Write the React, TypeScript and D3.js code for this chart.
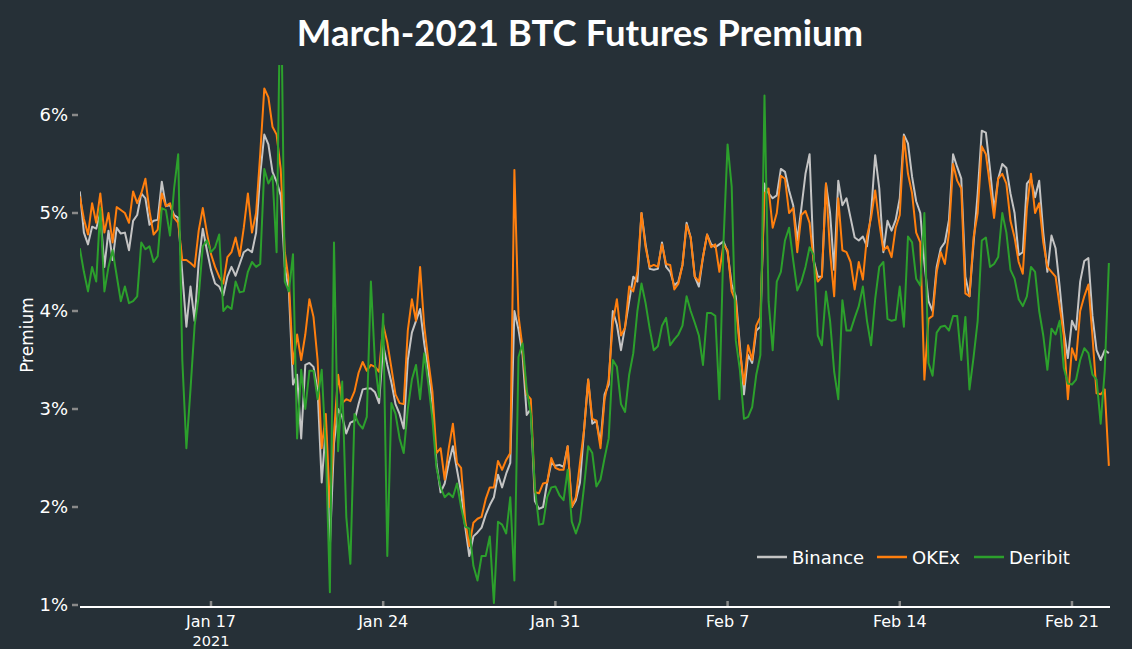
import React from 'react';
import * as d3 from 'd3';

// 4-hourly observations starting 2021-01-11 16:00 UTC
const START_UTC = Date.UTC(2021, 0, 11, 16);
const STEP_HOURS = 4;

const binance = [
  5.22, 4.8, 4.68, 4.86, 4.84, 5.0, 4.45, 4.82, 4.52, 4.85,
  4.79, 4.8, 4.62, 4.92, 4.98, 5.2, 5.15, 4.88, 4.92, 4.93,
  5.32, 5.07, 5.08, 4.98, 4.95, 4.38, 3.84, 4.25, 3.9, 4.5,
  4.84, 4.62, 4.42, 4.28, 4.25, 4.16, 4.35, 4.45, 4.36, 4.48,
  4.6, 4.63, 4.6, 4.8, 5.39, 5.8, 5.7, 5.42, 5.32, 5.18,
  4.45, 4.2, 3.25, 3.35, 2.7, 3.45, 3.47, 3.43, 3.2, 2.25,
  2.8, 1.6, 2.65, 3.0, 2.92, 2.75, 2.86, 2.88, 3.05, 3.2,
  3.21, 3.21, 3.17, 3.06, 3.65, 3.45, 3.27, 3.05, 2.95, 2.8,
  3.5, 3.78, 3.9, 4.02, 3.67, 3.4, 3.05, 2.45, 2.15, 2.24,
  2.45, 2.62, 2.38, 2.15, 1.8, 1.5, 1.7, 1.74, 1.79, 1.92,
  2.02, 2.1, 2.33, 2.2, 2.34, 2.45, 4.0, 3.81, 3.55, 2.94,
  3.0, 2.06, 1.98, 2.0, 2.25, 2.45, 2.42, 2.43, 2.41, 2.62,
  2.0, 2.07, 2.25, 2.79, 3.3, 2.85, 2.88, 2.65, 3.15, 3.25,
  4.0, 3.86, 3.6, 3.84, 4.1, 4.35, 4.3, 5.0, 4.68, 4.43,
  4.42, 4.43, 4.7, 4.45, 4.4, 4.26, 4.3, 4.47, 4.9, 4.75,
  4.35, 4.25, 4.55, 4.78, 4.68, 4.65, 4.68, 4.71, 4.6, 4.27,
  4.15, 3.65, 3.15, 3.55, 3.47, 3.8, 3.84, 5.3, 5.2, 5.15,
  5.18, 5.45, 5.42, 5.23, 5.08, 4.72, 5.05, 5.4, 5.6, 4.52,
  4.35, 4.35, 5.3, 5.0, 4.42, 5.33, 5.08, 5.15, 4.95, 4.75,
  4.72, 4.76, 4.66, 5.0, 5.59, 5.25, 4.6, 4.92, 4.82, 4.93,
  5.15, 5.8, 5.71, 5.37, 5.12, 5.0, 4.49, 4.1, 4.0, 4.45,
  4.64, 4.7, 4.93, 5.6, 5.47, 5.35, 4.35, 4.15, 4.69, 5.2,
  5.84, 5.82, 5.45, 5.03, 5.35, 5.5, 5.46, 5.2, 5.0, 4.57,
  4.6, 5.3, 5.35, 5.16, 5.33, 4.8, 4.4, 4.77, 4.64, 4.25,
  3.8, 3.52, 3.9, 3.81, 4.3, 4.51, 4.54, 3.95, 3.6, 3.5,
  3.6, 3.57,
];

const okex = [
  5.17, 4.94, 4.78, 5.1, 4.9, 5.2, 4.8, 5.0, 4.7, 5.06,
  5.03, 5.0, 4.9, 5.22, 5.1, 5.2, 5.35, 5.02, 4.78, 4.83,
  5.2, 5.07, 5.1, 4.95, 4.9, 4.52, 4.52, 4.49, 4.45, 4.82,
  5.05, 4.8, 4.58, 4.45, 4.35, 4.28, 4.55, 4.6, 4.75, 4.56,
  4.85, 5.2, 4.8, 5.0, 5.6, 6.27, 6.18, 5.88, 5.8, 5.45,
  4.6, 4.3, 3.46, 3.76, 3.5, 3.76, 4.12, 3.94, 3.5, 2.6,
  2.95, 2.0, 2.75, 3.35, 3.06, 3.1, 3.08, 3.18, 3.37, 3.48,
  3.39, 3.45, 3.43, 3.38, 3.86, 3.68, 3.42, 3.15, 3.06, 3.05,
  3.8, 4.12, 3.9, 4.45, 3.85, 3.5, 3.18, 2.55, 2.6, 2.28,
  2.6, 2.85, 2.45, 2.4, 1.86, 1.6, 1.84, 1.88, 1.9, 2.08,
  2.2, 2.2, 2.47, 2.38, 2.48, 2.55, 5.44, 3.95, 3.62, 3.15,
  3.1, 2.15, 2.14, 2.24, 2.25, 2.5, 2.4, 2.38, 2.38, 2.62,
  2.0, 2.1, 2.45, 2.79, 3.3, 2.9, 2.88, 2.6, 3.1, 3.3,
  3.88, 4.12, 3.75, 3.83, 4.25, 4.2, 4.4, 5.0, 4.65, 4.45,
  4.47, 4.45, 4.68, 4.48, 4.47, 4.22, 4.28, 4.47, 4.88, 4.75,
  4.35, 4.3, 4.55, 4.78, 4.65, 4.68, 4.4, 4.68, 4.62, 4.2,
  4.1, 3.6, 3.25, 3.65, 3.5, 3.85, 3.94, 5.2, 5.25, 4.85,
  5.0, 5.38, 5.35, 5.0, 5.05, 4.6, 4.98, 5.02, 4.9, 4.5,
  4.3, 4.35, 5.3, 4.6, 4.15, 5.15, 4.62, 4.6, 4.5, 4.22,
  4.5, 4.32, 4.76, 4.95, 5.23, 4.9, 4.62, 4.66, 4.55, 4.85,
  4.98, 5.78, 5.4, 5.2, 4.8, 4.7, 3.3, 3.92, 3.95, 4.4,
  4.6, 4.48, 4.8, 5.5, 5.33, 5.25, 4.18, 4.15, 4.75, 5.0,
  5.68, 5.6, 5.28, 4.95, 5.35, 5.4, 5.3, 4.92, 4.75, 4.5,
  4.38, 5.05, 5.4, 5.0, 5.1, 4.7, 4.45, 4.4, 4.35, 4.05,
  3.75, 3.1, 3.62, 3.5, 4.0, 4.15, 4.27, 3.74, 3.16, 3.15,
  3.2, 2.42,
];

const deribit = [
  4.64, 4.4, 4.2, 4.45, 4.3, 5.05, 4.2, 4.45, 4.62, 4.36,
  4.1, 4.25, 4.08, 4.1, 4.15, 4.7, 4.63, 4.66, 4.5, 4.56,
  5.05, 5.03, 4.77, 5.25, 5.6, 3.5, 2.6, 3.2, 3.85, 4.15,
  4.66, 4.72, 4.6, 4.65, 4.78, 4.0, 4.05, 4.02, 4.3, 4.19,
  4.2, 4.4, 4.5, 4.45, 4.48, 5.45, 5.3, 5.38, 4.6, 7.6,
  4.3, 4.2, 4.58, 2.7, 3.4, 3.0, 3.39, 3.39, 3.1, 3.4,
  2.6, 1.13, 4.7, 2.57, 3.28, 1.9, 1.42, 2.95, 2.85, 2.8,
  2.92, 4.3, 3.46, 3.12, 3.97, 1.5, 3.06, 2.95, 2.7, 2.55,
  3.0, 3.3, 3.45, 3.1, 3.57, 3.26, 2.9, 2.4, 2.2, 2.1,
  2.14, 2.1, 2.24, 2.0, 1.8, 1.78, 1.4, 1.25, 1.5, 1.5,
  1.7, 1.02, 1.85, 1.82, 1.73, 2.1, 1.25, 3.53, 3.67, 3.2,
  2.95, 2.2, 1.82, 1.83, 2.1, 2.2, 2.21, 2.12, 2.07, 2.38,
  1.85, 1.73, 1.85, 2.21, 2.62, 2.55, 2.21, 2.28, 2.5, 2.7,
  3.5, 3.43, 3.05, 2.97, 3.35, 3.57, 4.0, 4.28, 4.08, 3.82,
  3.6, 3.64, 3.85, 3.93, 3.65, 3.71, 3.76, 3.85, 4.15, 4.0,
  3.88, 3.75, 3.45, 3.98, 3.98, 3.95, 3.1, 4.7, 5.7, 5.27,
  3.7, 3.4, 2.9, 2.92, 3.02, 3.35, 3.55, 6.2, 4.1, 3.6,
  4.3, 4.4, 4.72, 4.85, 4.52, 4.21, 4.3, 4.45, 4.65, 4.57,
  3.75, 3.65, 4.2, 3.9, 3.38, 3.1, 4.11, 3.8, 3.8, 3.93,
  4.05, 4.25, 3.9, 3.65, 4.12, 4.45, 4.5, 3.92, 3.9, 3.91,
  4.25, 3.84, 4.76, 4.7, 4.33, 4.26, 5.0, 3.47, 3.34, 3.78,
  3.84, 3.85, 3.8, 3.95, 3.95, 3.5, 3.94, 3.2, 3.53, 3.9,
  4.72, 4.75, 4.45, 4.48, 4.55, 5.0, 4.8, 4.42, 4.33, 4.12,
  4.05, 4.15, 4.45, 4.4, 4.0, 3.75, 3.4, 3.82, 3.76, 3.9,
  3.42, 3.26, 3.25, 3.3, 3.5, 3.62, 3.57, 3.35, 3.3, 2.85,
  3.4, 4.49,
];

const seriesNames = ['Binance', 'OKEx', 'Deribit'];
const seriesColors = ['#c4c4c4', '#ff7f0e', '#2ca02c'];
const yTickValues = [1, 2, 3, 4, 5, 6];
const TITLE = 'March-2021 BTC Futures Premium';
const Y_TITLE = 'Premium';

export default function App() {
  const W = 1132;
  const H = 649;
  const plotLeft = 80;
  const plotRight = 1110;
  const plotTop = 65;
  const plotBottom = 606;

  const allSeries = [binance, okex, deribit];
  const times = binance.map((_, i) => new Date(START_UTC + i * STEP_HOURS * 3600 * 1000));

  const x = d3
    .scaleUtc()
    .domain([new Date(START_UTC), new Date(Date.UTC(2021, 1, 22, 13))])
    .range([79.8, 1109.9]);
  const y = d3.scaleLinear().domain([1, 6]).range([605, 115]);

  const line = d3
    .line<number>()
    .x((_, i) => x(times[i]))
    .y((d) => y(d));

  const xTicks = d3.utcSunday.range(x.domain()[0], x.domain()[1]);
  const fmt = d3.utcFormat('%b %-d');
  const tickFont = '"DejaVu Sans", Verdana, sans-serif';

  const legendItems = [
    { lx: 757, tx: 792 },
    { lx: 877, tx: 912 },
    { lx: 974, tx: 1009 },
  ];

  return (
    <svg
      width={W}
      height={H}
      style={{ position: 'absolute', left: 0, top: 0, display: 'block' }}
    >
      <defs>
        <clipPath id="plotClip">
          <rect x={plotLeft} y={plotTop} width={plotRight - plotLeft} height={plotBottom - plotTop} />
        </clipPath>
      </defs>
      <rect x={0} y={0} width={W} height={H} fill="#263037" />

      <text
        x={580}
        y={46}
        textAnchor="middle"
        fill="#ffffff"
        fontFamily="Lato, 'Open Sans', sans-serif"
        fontWeight={700}
        fontSize={36.5}
      >
        {TITLE}
      </text>

      {yTickValues.map((v) => (
        <g key={v}>
          <line x1={72} x2={78} y1={y(v)} y2={y(v)} stroke="#8a8a8a" strokeWidth={2.5} />
          <text
            x={68}
            y={y(v)}
            dy="0.36em"
            textAnchor="end"
            fill="#ffffff"
            fontFamily={tickFont}
            fontSize={18}
          >
            {v}%
          </text>
        </g>
      ))}

      <text
        transform={`translate(33,335) rotate(-90)`}
        textAnchor="middle"
        fill="#ffffff"
        fontFamily={tickFont}
        fontSize={17}
      >
        {Y_TITLE}
      </text>

      <g clipPath="url(#plotClip)">
        {allSeries.map((s, k) => (
          <path
            key={seriesNames[k]}
            d={line(s) || ''}
            fill="none"
            stroke={seriesColors[k]}
            strokeWidth={2}
            strokeLinejoin="round"
          />
        ))}
      </g>

      <line x1={plotLeft} x2={plotRight} y1={607} y2={607} stroke="#ffffff" strokeWidth={2} />
      {xTicks.map((t, i) => (
        <g key={t.toISOString()}>
          <line x1={x(t)} x2={x(t)} y1={601} y2={606} stroke="#8a8a8a" strokeWidth={2.5} />
          <text x={x(t)} y={627} textAnchor="middle" fill="#ffffff" fontFamily={tickFont} fontSize={16}>
            {fmt(t)}
          </text>
          {i === 0 && (
            <text x={x(t)} y={645.5} textAnchor="middle" fill="#ffffff" fontFamily={tickFont} fontSize={14.5}>
              {d3.utcFormat('%Y')(t)}
            </text>
          )}
        </g>
      ))}

      {seriesNames.map((name, k) => (
        <g key={name}>
          <line
            x1={legendItems[k].lx}
            x2={legendItems[k].lx + 30}
            y1={557}
            y2={557}
            stroke={seriesColors[k]}
            strokeWidth={2.5}
          />
          <text x={legendItems[k].tx} y={564} fill="#ffffff" fontFamily={tickFont} fontSize={18}>
            {name}
          </text>
        </g>
      ))}
    </svg>
  );
}
